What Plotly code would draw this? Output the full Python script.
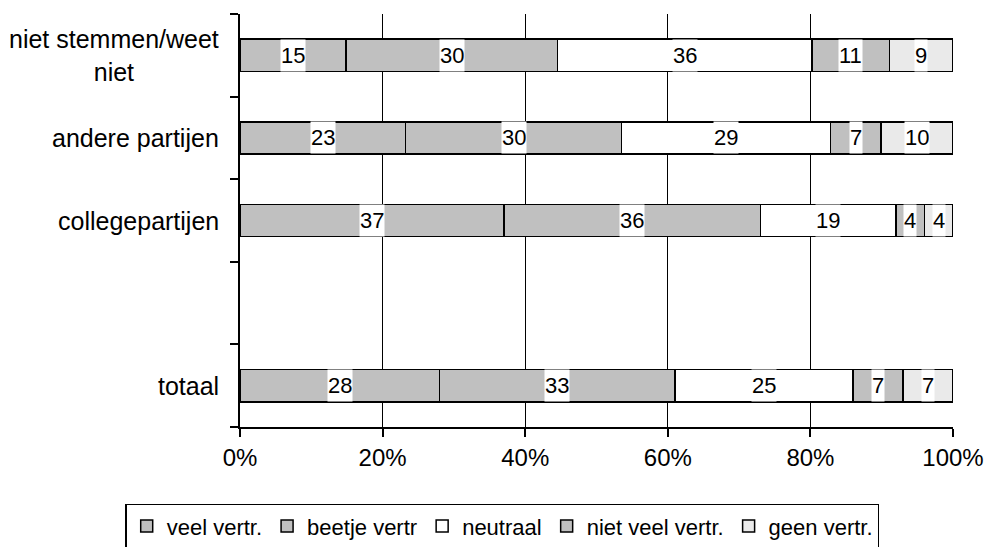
import plotly.graph_objects as go

categories = ["totaal", " ", "collegepartijen", "andere partijen", "niet stemmen/weet niet"]
category_labels = ["totaal", "", "collegepartijen", "andere partijen", "niet stemmen/weet<br>niet"]
series_names = ["veel vertr.", "beetje vertr", "neutraal", "niet veel vertr.", "geen vertr."]
veel = [28, None, 37, 23, 15]
beetje = [33, None, 36, 30, 30]
neutraal = [25, None, 19, 29, 36]
niet_veel = [7, None, 4, 7, 11]
geen = [7, None, 4, 10, 9]
x_ticks = [0, 20, 40, 60, 80, 100]
x_tick_labels = ["0%", "20%", "40%", "60%", "80%", "100%"]

series = [veel, beetje, neutraal, niet_veel, geen]
colors = ["#c0c0c0", "#c0c0c0", "#ffffff", "#c0c0c0", "#eaeaea"]
FONT = "Liberation Sans, Arial, sans-serif"

fig = go.Figure()
for name, vals, col in zip(series_names, series, colors):
    fig.add_trace(go.Bar(
        y=categories, x=[v if v is not None else 0 for v in vals], name=name,
        orientation="h", marker=dict(color=col, line=dict(color="black", width=1.5)),
        hoverinfo="x+y+name",
    ))

annotations = []
for i, cat in enumerate(categories):
    vals = [s[i] for s in series]
    if vals[0] is None:
        continue
    total = sum(vals)
    cum = 0
    for v in vals:
        mid = (cum + v / 2) / total * 100
        cum += v
        annotations.append(dict(
            x=mid, y=cat, xref="x", yref="y", text=str(v), showarrow=False,
            bgcolor="white", borderpad=0, height=31,
            font=dict(family=FONT, size=22, color="black"),
        ))

for cat, lab in zip(categories, category_labels):
    if not lab:
        continue
    annotations.append(dict(
        x=-0.027, y=cat, xref="paper", yref="y", text=lab, showarrow=False,
        xanchor="right", align="center",
        font=dict(family=FONT, size=25, color="black"),
    ))

fig.update_layout(
    width=986, height=547,
    margin=dict(l=240, r=33, t=14, b=120, autoexpand=False),
    paper_bgcolor="white", plot_bgcolor="white",
    barmode="stack", barnorm="percent", bargap=0.61,
    font=dict(family=FONT, size=23, color="black"),
    showlegend=True,
    legend=dict(
        orientation="h",
        x=-0.161, xanchor="left", y=-0.186, yanchor="top",
        bordercolor="black", borderwidth=1.5, bgcolor="white",
        font=dict(family=FONT, size=22, color="black"),
        traceorder="normal", itemwidth=30,
    ),
    annotations=annotations,
)
fig.update_xaxes(
    range=[0, 100], tickvals=x_ticks, ticktext=x_tick_labels,
    tickfont=dict(family=FONT, size=24, color="black"),
    showgrid=True, gridcolor="black", gridwidth=1,
    showline=True, linecolor="black", linewidth=1.5,
    ticks="outside", ticklen=8, tickcolor="black", tickwidth=1.5,
    zeroline=False, fixedrange=True,
)
fig.update_yaxes(
    type="category", categoryorder="array", categoryarray=categories,
    tickson="boundaries", showticklabels=False,
    showline=True, linecolor="black", linewidth=1.5,
    ticks="outside", ticklen=8, tickcolor="black", tickwidth=1.5,
    showgrid=False, zeroline=False, fixedrange=True,
)
fig.write_html(
    "out.html",
    config={"displayModeBar": False},
    post_script="document.body.style.margin='0';document.body.style.overflow='hidden';",
)
